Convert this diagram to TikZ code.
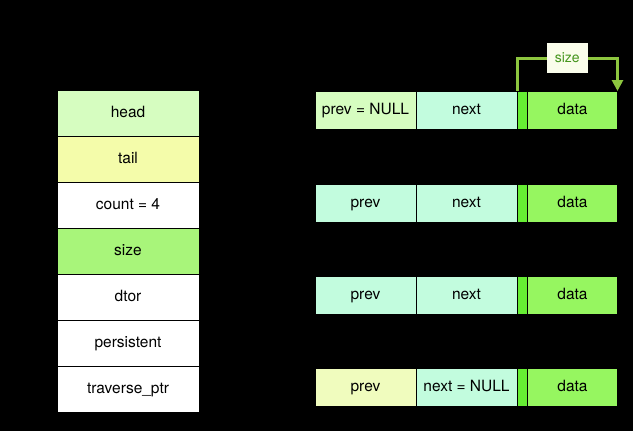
\documentclass[tikz,border=0pt]{standalone}
\usepackage{fontspec}
\setmainfont{TeX Gyre Heros}
\usetikzlibrary{positioning,arrows.meta}
\definecolor{headgreen}{RGB}{214,253,192}
\definecolor{tailyellow}{RGB}{244,252,170}
\definecolor{sizegreen}{RGB}{168,245,122}
\definecolor{nextmint}{RGB}{194,252,222}
\definecolor{prevyellow}{RGB}{240,252,190}
\definecolor{bargreen}{RGB}{102,238,51}
\definecolor{datagreen}{RGB}{150,246,96}
\definecolor{arrowgreen}{RGB}{141,198,63}
\definecolor{labelcream}{RGB}{250,253,235}
\definecolor{labelgreen}{RGB}{70,150,30}

\begin{document}
\begin{tikzpicture}[x=1pt,y=-1pt,
  field/.style={draw=black,line width=1pt,outer sep=0pt,minimum width=142pt,minimum height=46pt,inner sep=0pt,
    text height=11pt,text depth=3pt,font=\fontsize{15.5}{18}\selectfont},
  cell/.style={draw=black,line width=1pt,outer sep=0pt,minimum height=38pt,inner sep=0pt,
    text height=11pt,text depth=3pt,font=\fontsize{15.5}{18}\selectfont},
  sizearrow/.style={draw=arrowgreen,line width=3pt,-{Triangle[width=11pt,length=11pt]}},
  sizelabel/.style={fill=labelcream,text=labelgreen,minimum width=41pt,minimum height=30pt,inner sep=0pt,font=\fontsize{14}{16}\selectfont}]
\fill[black,use as bounding box] (0,0) rectangle (633,431);
% the list header
\node[field,fill=headgreen,anchor=north west] (head) at (57,90) {head};
\node[field,fill=tailyellow,below=0pt of head] (tail) {tail};
\node[field,fill=white,below=0pt of tail] (count) {count = 4};
\node[field,fill=sizegreen,below=0pt of count] (size) {size};
\node[field,fill=white,below=0pt of size] (dtor) {dtor};
\node[field,fill=white,below=0pt of dtor] (persistent) {persistent};
\node[field,fill=white,below=0pt of persistent] (traverse) {traverse\_ptr};
% the elements
\foreach \r/\y/\pc/\ptxt/\ntxt in {1/91/headgreen/{prev = NULL}/next,
    2/184/nextmint/prev/next, 3/276/nextmint/prev/next, 4/368/prevyellow/prev/{next = NULL}} {
  \node[cell,minimum width=101pt,fill=\pc,anchor=north west] (prev\r) at (315,\y) {\ptxt};
  \node[cell,minimum width=101pt,fill=nextmint,right=0pt of prev\r] (next\r) {\ntxt};
  \node[cell,minimum width=10.5pt,fill=bargreen,right=0pt of next\r] (bar\r) {};
  \node[cell,minimum width=90pt,fill=datagreen,right=0pt of bar\r] (data\r) {data};
}
\draw[sizearrow] (bar1.north west) -- ++(0,-33) -| node[sizelabel,pos=0.25] (sizelbl) {size} (data1.north east);
\end{tikzpicture}
\end{document}
